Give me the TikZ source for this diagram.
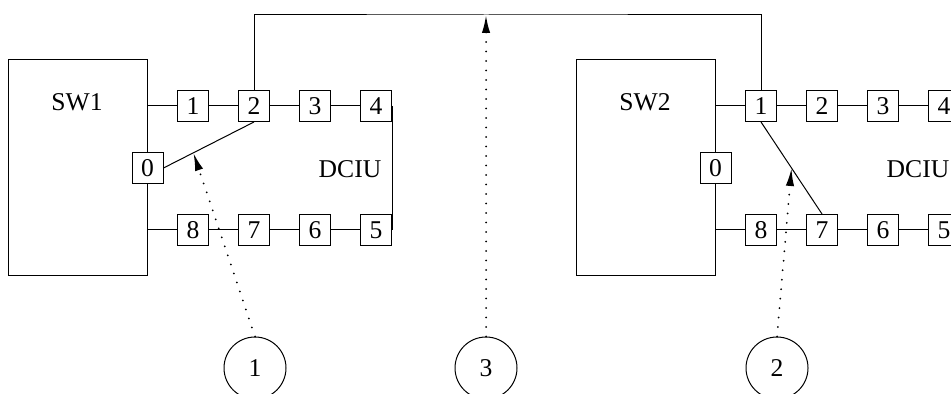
\documentclass[tikz,border=0pt]{standalone}
\usepackage{fontspec}
\setmainfont{Liberation Serif}
\usetikzlibrary{arrows.meta, positioning}

\begin{document}
\begin{tikzpicture}[x=0.5pt, y=-0.5pt, node distance=30.5pt, on grid, line width=0.5pt, font=\fontsize{12.8}{14}\selectfont]
\useasboundingbox (0,0) rectangle (951,394);
\clip (0,0) rectangle (951,394);

	\tikzset{switchbox/.style={draw, minimum width=69.5pt, minimum height=108pt}}
	\tikzset{port/.style={draw, fill=white, minimum size=15.5pt, inner sep=0pt}}
	\tikzset{probe/.style={draw, circle, minimum size=31pt, inner sep=0pt}}
	\tikzset{pointer/.style={-{Latex[length=9pt,width=4.2pt]}, dash pattern=on 0pt off 4.75pt, line cap=round, line width=1pt}}

% first switch
\node[switchbox] (sw1) at (77.5,168) {};
\node (sw1lbl) at (77,102) {SW1};
\node[port] (p11) at (193,106) {1};
\node[port] (p12) [right=of p11] {2};
\node[port] (p13) [right=of p12] {3};
\node[port] (p14) [right=of p13] {4};
\node[port] (p18) at (193,230) {8};
\node[port] (p17) [right=of p18] {7};
\node[port] (p16) [right=of p17] {6};
\node[port] (p15) [right=of p16] {5};
\node[port] (p10) at (sw1.east) {0};
\node (dciu1) at (350,169) {DCIU};

% second switch
\node[switchbox] (sw2) at (645.5,168) {};
\node (sw2lbl) at (645,102) {SW2};
\node[port] (p21) at (761,106) {1};
\node[port] (p22) [right=of p21] {2};
\node[port] (p23) [right=of p22] {3};
\node[port] (p24) [right=of p23] {4};
\node[port] (p28) at (761,230) {8};
\node[port] (p27) [right=of p28] {7};
\node[port] (p26) [right=of p27] {6};
\node[port] (p25) [right=of p26] {5};
\node[port] (p20) at (sw2.east) {0};
\node (dciu2) at (918,169) {DCIU};

\draw (sw1.east |- p11) -- (p11) -- (p12) -- (p13) -- (p14);
\draw (sw1.east |- p18) -- (p18) -- (p17) -- (p16) -- (p15);
\draw (p14.east) -- (p15.east);
\draw (p10.east) -- coordinate[pos=0.33] (hit1) (p12.south);

\draw (sw2.east |- p21) -- (p21) -- (p22) -- (p23) -- (p24);
\draw (sw2.east |- p28) -- (p28) -- (p27) -- (p26) -- (p25);
\draw (p24.east) -- (p25.east);
\draw (p21.south) -- coordinate[pos=0.5] (hit2) (p27.north);

% link between the switches
\coordinate (bus) at (486,15);
\draw (p12.north) |- (bus) -| (p21.north);

% probes
\node[probe] (c1) at (255,368) {1};
\node[probe] (c3) at (486,368) {3};
\node[probe] (c2) at (777,368) {2};

\draw[pointer] (c1.north) -- (hit1);
\draw[pointer] (c3.north) -- (bus);
\draw[pointer] (c2.north) -- (hit2);

\end{tikzpicture}
\end{document}
